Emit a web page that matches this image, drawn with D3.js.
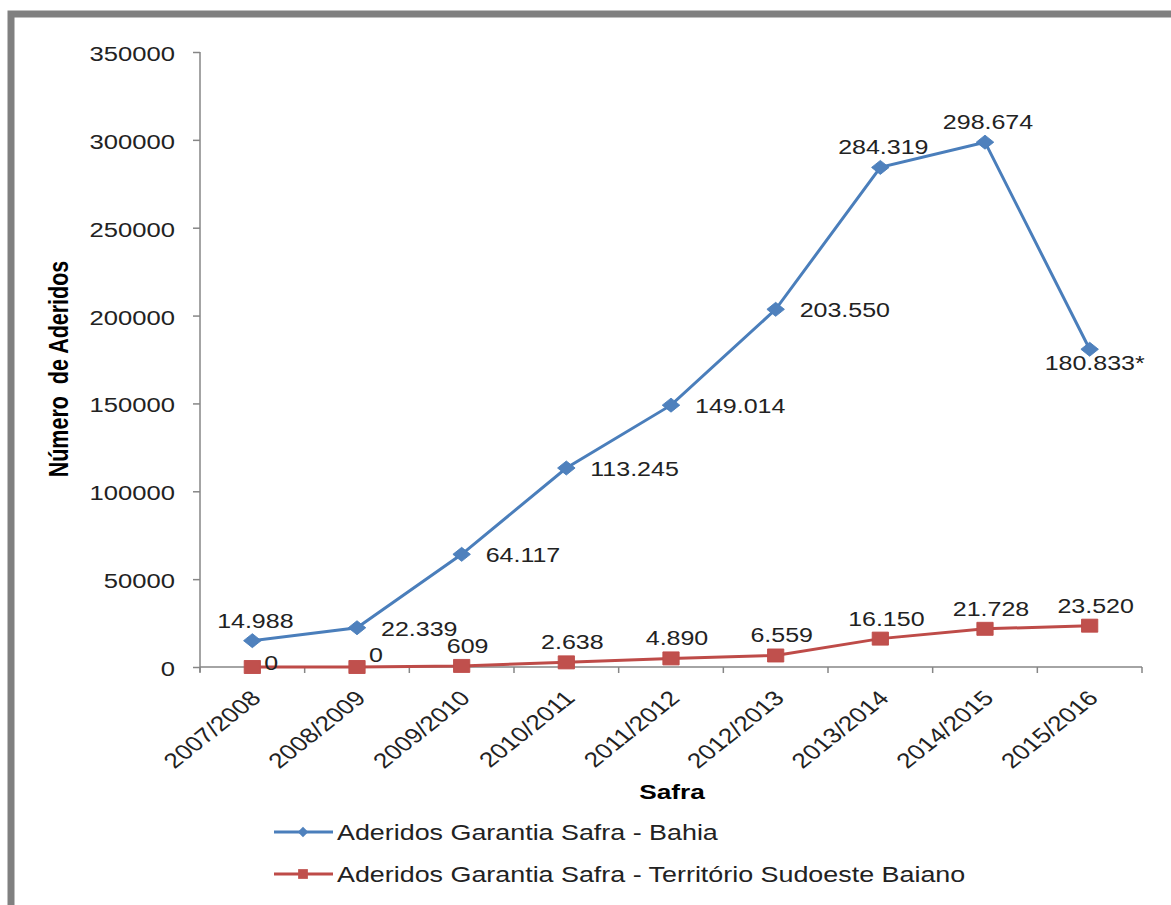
<!DOCTYPE html>
<html>
<head>
  <meta charset="utf-8">
  <style>
    body { margin: 0; background: #fff; }
    text { font-family: "Liberation Sans", Arial, sans-serif; fill: #222; }
  </style>
</head>
<body>
  <script src="https://d3js.org/d3.v7.min.js"></script>
  <script>
    // data
    const safras = ["2007/2008", "2008/2009", "2009/2010", "2010/2011", "2011/2012",
      "2012/2013", "2013/2014", "2014/2015", "2015/2016"];
    const bahia = [14988, 22339, 64117, 113245, 149014, 203550, 284319, 298674, 180833];
    const sudoeste = [0, 0, 609, 2638, 4890, 6559, 16150, 21728, 23520];
    const bahiaNotes = ["", "", "", "", "", "", "", "", "*"];
    const yTicks = [0, 50000, 100000, 150000, 200000, 250000, 300000, 350000];
    const seriesNames = ["Aderidos Garantia Safra - Bahia",
      "Aderidos Garantia Safra - Território Sudoeste Baiano"];
    // where each data label sits relative to its point
    const bahiaLabelPos = ["above", "right", "right", "right", "right", "right", "above", "above", "below"];
    const sudoesteLabelPos = ["right", "right", "above", "above", "above", "above", "above", "above", "above"];

    const w = 1171, h = 905;
    const SX = 1.25; // the original picture is stretched sideways
    const blue = "#4a7ebb", blueMark = "#4f81bd";
    const red = "#be4b48", redMark = "#c0504d";
    const axisColor = "#868686";

    const br = d3.formatLocale({ decimal: ",", thousands: ".", grouping: [3], currency: ["R$", ""] });
    const fmt = br.format(",d");

    const svg = d3.select("body").append("svg")
      .attr("width", w)
      .attr("height", h);

    // frame (only top and left are visible)
    svg.append("path")
      .attr("d", "M11,905 V14 H1171")
      .attr("fill", "none")
      .attr("stroke", "#808080")
      .attr("stroke-width", 7);

    const x = d3.scaleBand().domain(safras).range([200, 1142]);
    const cx = (d) => x(d) + x.bandwidth() / 2;
    const y = d3.scaleLinear().domain([0, 350000]).range([667, 52]);

    function label(g, tx, ty, str, size, anchor, bold) {
      return g.append("text")
        .attr("transform", "translate(" + tx + "," + ty + ") scale(" + SX + ",1)")
        .attr("text-anchor", anchor)
        .style("font-size", size + "px")
        .style("font-weight", bold ? "bold" : "normal")
        .text(str);
    }

    // y axis
    const yAxis = d3.axisLeft(y).tickValues(yTicks).tickSize(7).tickFormat(d3.format("d"));
    const gy = svg.append("g").attr("transform", "translate(200,0)").call(yAxis);
    gy.select(".domain").attr("stroke", axisColor).attr("stroke-width", 1.5).attr("d", "M0,52V672");
    gy.selectAll(".tick line").attr("stroke", axisColor).attr("stroke-width", 1.5);
    gy.selectAll(".tick text").remove();
    yTicks.forEach((t) => label(svg, 175, y(t) + 9, d3.format("d")(t), 20.5, "end"));

    // x axis, ticks sit between categories
    const gx = svg.append("g").attr("transform", "translate(0,667)");
    gx.append("line").attr("x1", 200).attr("x2", 1142)
      .attr("stroke", axisColor).attr("stroke-width", 1.5);
    const bounds = safras.map((d) => x(d)).concat([x.range()[1]]);
    gx.selectAll("line.tk").data(bounds).enter().append("line")
      .attr("class", "tk")
      .attr("x1", (d) => d).attr("x2", (d) => d)
      .attr("y1", 0).attr("y2", 6)
      .attr("stroke", axisColor).attr("stroke-width", 1.5);
    gx.selectAll("text.xl").data(safras).enter().append("text")
      .attr("class", "xl")
      .attr("transform", (d) => "translate(" + (cx(d) - 3) + ",22) scale(" + SX + ",1) rotate(-45)")
      .attr("text-anchor", "end")
      .attr("dy", "0.7em")
      .style("font-size", "21px")
      .text((d) => d);

    // axis titles
    svg.append("text")
      .attr("transform", "translate(68,369) scale(" + SX + ",1) rotate(-90)")
      .attr("text-anchor", "middle")
      .style("font-size", "21.5px")
      .style("font-weight", "bold")
      .style("white-space", "pre")
      .style("fill", "#000")
      .text("Número  de Aderidos");
    label(svg, 672, 799, "Safra", 21, "middle", true).style("fill", "#000");

    // lines
    const line = (vals) => d3.line()
      .x((d, i) => cx(safras[i]))
      .y((d) => y(d))(vals);

    svg.append("path").attr("d", line(sudoeste))
      .attr("fill", "none").attr("stroke", red).attr("stroke-width", 3);
    svg.append("path").attr("d", line(bahia))
      .attr("fill", "none").attr("stroke", blue).attr("stroke-width", 3);

    const diamond = "M0,-7 L7,0 L0,7 L-7,0 Z";
    const square = "M-6.5,-6.5 H6.5 V6.5 H-6.5 Z";

    svg.selectAll("path.mr").data(sudoeste).enter().append("path")
      .attr("class", "mr")
      .attr("d", square)
      .attr("transform", (d, i) => "translate(" + cx(safras[i]) + "," + y(d) + ") scale(" + SX + ",1)")
      .attr("fill", redMark).attr("stroke", red).attr("stroke-width", 0.8);
    svg.selectAll("path.mb").data(bahia).enter().append("path")
      .attr("class", "mb")
      .attr("d", diamond)
      .attr("transform", (d, i) => "translate(" + cx(safras[i]) + "," + y(d) + ") scale(" + SX + ",1)")
      .attr("fill", blueMark).attr("stroke", blue).attr("stroke-width", 0.8);

    // data labels
    function place(pos, px, py) {
      if (pos === "right") return [px + 24, py + 8, "start"];
      if (pos === "below") return [px + 5, py + 21, "middle"];
      return [px + 3, py - 13, "middle"];
    }
    bahia.forEach((v, i) => {
      const p = place(bahiaLabelPos[i], cx(safras[i]), y(v));
      label(svg, p[0], p[1], fmt(v) + bahiaNotes[i], 20, p[2]);
    });
    sudoeste.forEach((v, i) => {
      const pos = sudoesteLabelPos[i];
      const px = cx(safras[i]), py = y(v);
      const p = pos === "right" ? [px + 12, py + (i === 0 ? 3 : -5), "start"] : [px + 6, py - 13, "middle"];
      label(svg, p[0], p[1], fmt(v), 20, p[2]);
    });

    // legend
    const legend = svg.append("g");
    const rows = [{ name: seriesNames[0], c: blue, m: blueMark, shape: diamond, ly: 832 },
    { name: seriesNames[1], c: red, m: redMark, shape: square, ly: 874 }];
    rows.forEach((r) => {
      legend.append("line").attr("x1", 274).attr("x2", 333)
        .attr("y1", r.ly).attr("y2", r.ly)
        .attr("stroke", r.c).attr("stroke-width", 3);
      legend.append("path").attr("d", r.shape)
        .attr("transform", "translate(303," + r.ly + ") scale(0.75)")
        .attr("fill", r.m);
      label(legend, 337, r.ly + 8, r.name, 21.5, "start");
    });
  </script>
</body>
</html>
